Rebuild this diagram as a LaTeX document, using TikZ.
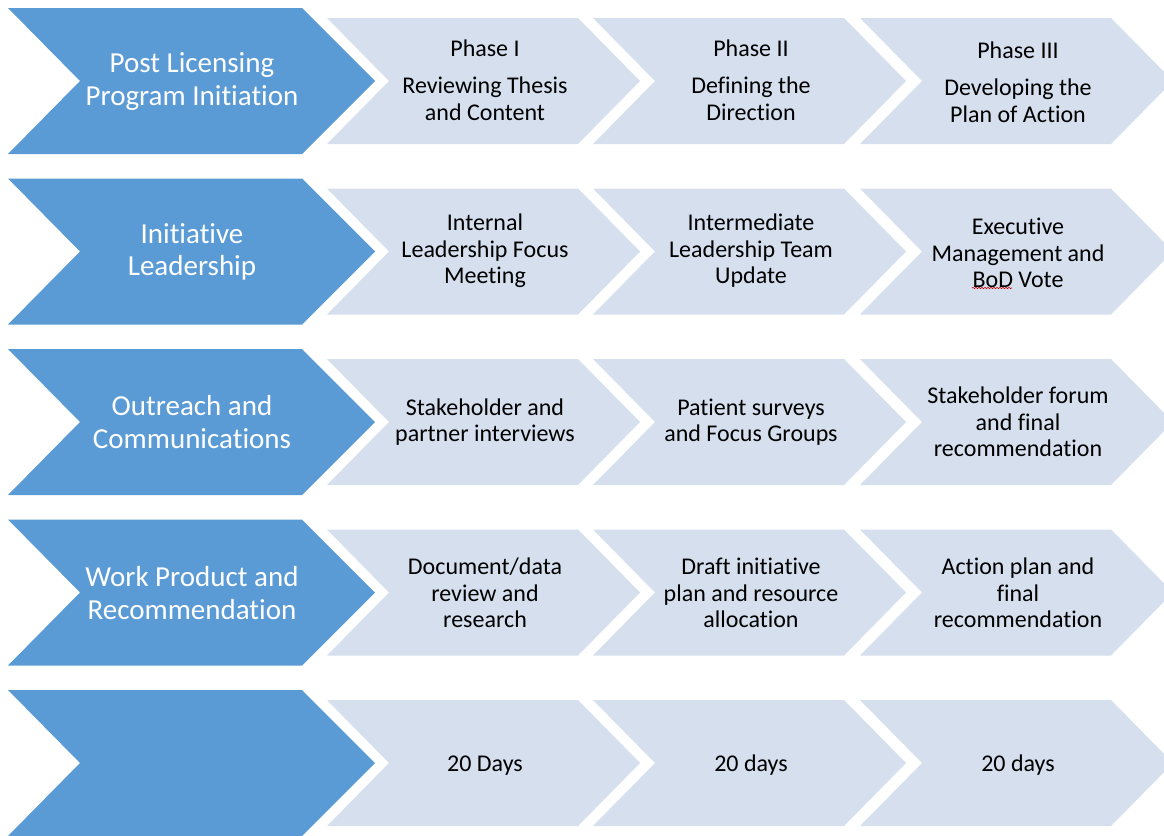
\documentclass[tikz,border=0pt]{standalone}
\usepackage{fontspec}
\setmainfont{Carlito}[Ligatures=NoCommon]
\usetikzlibrary{decorations.pathmorphing}
\definecolor{darkchev}{HTML}{5B9BD5}
\definecolor{lightchev}{HTML}{D5DFEE}
\tikzset{
  darktext/.style={text=white, font=\fontsize{29}{32.5}\selectfont, align=center, inner sep=0pt},
  lighttext/.style={text=black, font=\fontsize{24}{26.5}\selectfont, align=center, inner sep=0pt},
  darkfill/.style={fill=darkchev},
  lightfill/.style={fill=lightchev},
  spellmark/.style={draw=red!80!black, line width=0.6pt, decorate, decoration={snake, amplitude=0.7pt, segment length=3pt}}
}
\begin{document}
\begin{tikzpicture}[x=1pt,y=-1pt]
\useasboundingbox (0,0) rectangle (1164,835);
\foreach \i in {0,...,4}{
  \pgfmathsetmacro\c{81+170.5*\i}
  \fill[darkfill] (8,\c-73) -- (302,\c-73) -- (375,\c) -- (302,\c+73) -- (8,\c+73) -- (80,\c) -- cycle;
  \foreach \L in {327,593,860}{
    \fill[lightfill] (\L,\c-63) -- (\L+251,\c-63) -- (\L+313,\c) -- (\L+251,\c+63) -- (\L,\c+63) -- (\L+62,\c) -- cycle;
  }
}
% dark labels
\node[darktext] (d1) at (192,81.5) {Post Licensing\\Program Initiation};
\node[darktext] (d2) at (192,252) {Initiative\\Leadership};
\node[darktext] (d3) at (192,422) {Outreach and\\Communications};
\node[darktext] (d4) at (192,593) {Work Product and\\Recommendation};
% row 1
\node[lighttext] (p1) at (485,80) {Phase I\\[11pt]Reviewing Thesis\\and Content};
\node[lighttext] (p2) at (751,80) {Phase II\\[11pt]Defining the\\Direction};
\node[lighttext] (p3) at (1018,82) {Phase III\\[11pt]Developing the\\Plan of Action};
% row 2
\node[lighttext] (l1) at (485,251) {Internal\\Leadership Focus\\Meeting};
\node[lighttext] (l2) at (751,251) {Intermediate\\Leadership Team\\Update};
\node[lighttext] (l3) at (1018,253) {Executive\\Management and\\BoD Vote};
\coordinate (bodL) at (972,288);
\coordinate (bodR) at (1012,288);
\draw[spellmark] (bodL) -- (bodR);
% row 3
\node[lighttext] (o1) at (485,422) {Stakeholder and\\partner interviews};
\node[lighttext] (o2) at (751,422) {Patient surveys\\and Focus Groups};
\node[lighttext] (o3) at (1018,422) {Stakeholder forum\\and final\\recommendation};
% row 4
\node[lighttext] (w1) at (485,593) {Document/data\\review and\\research};
\node[lighttext] (w2) at (751,593) {Draft initiative\\plan and resource\\allocation};
\node[lighttext] (w3) at (1018,593) {Action plan and\\final\\recommendation};
% row 5
\node[lighttext, anchor=base] (t1) at (485,771) {20 Days};
\node[lighttext, anchor=base] (t2) at (751,771) {20 days};
\node[lighttext, anchor=base] (t3) at (1018,771) {20 days};
\end{tikzpicture}
\end{document}
